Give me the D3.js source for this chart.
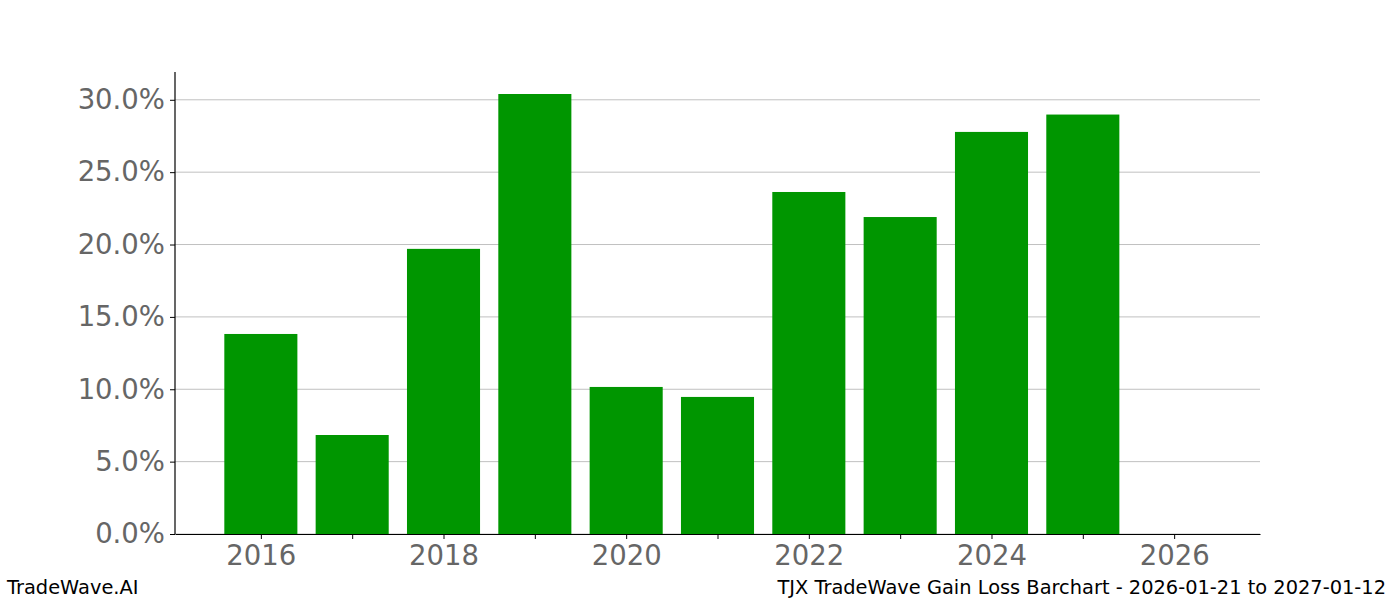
<!DOCTYPE html>
<html>
<head>
<meta charset="utf-8">
<script src="https://cdn.jsdelivr.net/npm/d3@7"></script>
<style>
  html, body { margin: 0; padding: 0; background: #fff; }
  svg { display: block; }
</style>
</head>
<body>
<svg id="chart" width="1400" height="600"></svg>
<script>
// data (gain % per year)
const years = [2016, 2017, 2018, 2019, 2020, 2021, 2022, 2023, 2024, 2025, 2026];
const gains = [13.82, 6.84, 19.7, 30.4, 10.16, 9.47, 23.63, 21.9, 27.78, 28.98, 0];
const yTicks = [0, 5, 10, 15, 20, 25, 30];
const xTicks = [2016, 2017, 2018, 2019, 2020, 2021, 2022, 2023, 2024, 2025, 2026];

const COLORS = {
    bar: '#009600',
    grid: '#c0c0c0',
    tick: '#666666',
    ink: '#000000',
};

const svg = d3.select('#chart');
const margin = { top: 72, right: 140, bottom: 66, left: 175 };
const width = 1400, height = 600;

const barW = 0.8;
const x0 = d3.min(years) - barW / 2, x1 = d3.max(years) + barW / 2;
const pad = (x1 - x0) * 0.05;
const x = d3.scaleLinear()
    .domain([x0 - pad, x1 + pad])
    .range([margin.left, width - margin.right]);
const y = d3.scaleLinear()
    .domain([0, d3.max(gains) * 1.05])
    .range([height - margin.bottom, margin.top]);

// horizontal grid
svg.append('g')
    .selectAll('line')
    .data(yTicks)
    .enter()
    .append('line')
    .attr('x1', margin.left).attr('x2', width - margin.right)
    .attr('y1', (d) => y(d)).attr('y2', (d) => y(d))
    .attr('stroke', COLORS.grid)
    .attr('stroke-width', 1);

// bars
svg.append('g')
    .selectAll('rect')
    .data(years.map((yr, i) => ({ yr, v: gains[i] })))
    .enter()
    .append('rect')
    .attr('x', (d) => x(d.yr - barW / 2))
    .attr('width', (d) => x(d.yr + barW / 2) - x(d.yr - barW / 2))
    .attr('y', (d) => y(d.v))
    .attr('height', (d) => y(0) - y(d.v))
    .attr('fill', COLORS.bar);

// y axis
const yAxis = svg.append('g')
    .attr('transform', `translate(${margin.left},0)`)
    .call(d3.axisLeft(y).tickValues(yTicks).tickFormat((d) => d.toFixed(1) + '%').tickSize(5).tickPadding(5).tickSizeOuter(0));

// x axis
const xAxis = svg.append('g')
    .attr('transform', `translate(0,${height - margin.bottom})`)
    .call(d3.axisBottom(x).tickValues(xTicks).tickFormat((d) => (d % 2 === 0 ? String(d) : '')).tickSize(5).tickPadding(6.5).tickSizeOuter(0));

[yAxis, xAxis].forEach((ax) => {
    ax.select('.domain').attr('stroke', COLORS.ink).attr('stroke-width', 1.2);
    ax.selectAll('.tick line').attr('stroke', COLORS.ink);
    ax.selectAll('.tick text')
        .attr('fill', COLORS.tick)
        .attr('font-family', 'DejaVu Sans, sans-serif')
        .attr('font-size', 27.5);
});
yAxis.select('.domain').attr('d', `M0,${y.range()[0]}V${y.range()[1]}`);

// footer
svg.append('text')
    .attr('x', 7).attr('y', 594)
    .attr('font-family', 'DejaVu Sans, sans-serif')
    .attr('font-size', 19.4)
    .attr('fill', COLORS.ink)
    .text('TradeWave.AI');

svg.append('text')
    .attr('x', 1386).attr('y', 594)
    .attr('text-anchor', 'end')
    .attr('font-family', 'DejaVu Sans, sans-serif')
    .attr('font-size', 19.4)
    .attr('fill', COLORS.ink)
    .text('TJX TradeWave Gain Loss Barchart - 2026-01-21 to 2027-01-12');
</script>
</body>
</html>
